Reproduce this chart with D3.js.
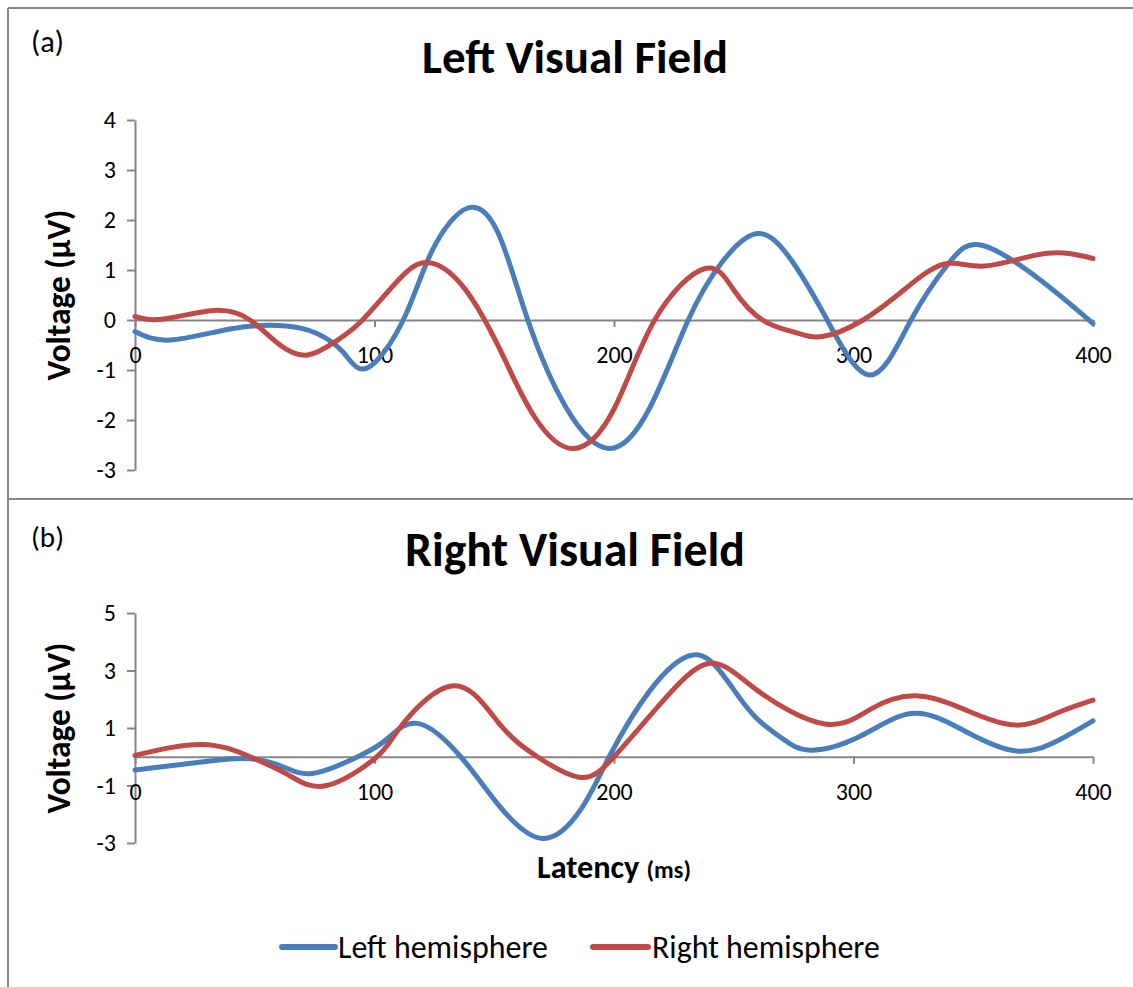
<!DOCTYPE html>
<html>
<head>
<meta charset="utf-8">
<script src="https://cdn.jsdelivr.net/npm/d3@7"></script>
<style>
  html, body { margin: 0; padding: 0; background: #fff; }
  svg { display: block; }
  text { font-family: Carlito, Lato, "Noto Sans", sans-serif; fill: #000; }
</style>
</head>
<body>
<svg id="chart" width="1133" height="987"></svg>
<script>
// Latency (ms) / voltage (µV) pairs for each hemisphere, per visual field
const leftFieldLeftHemi = [
  [0,-0.23],[15,-0.40],[41,-0.17],[63,-0.12],[76,-0.27],[87,-0.65],[97,-0.96],
  [112,0],[124,1.38],[139,2.24],[152,1.7],[164,0],[180,-1.75],[198,-2.57],
  [215,-1.75],[231,0],[245,1.15],[260,1.73],[274,1.2],[289,0],[307,-1.1],
  [324,0],[340,1.15],[354,1.49],[378,0.8],[400,-0.07]
];
const leftFieldRightHemi = [
  [0,0.07],[12,0.02],[33,0.19],[48,0],[60,-0.48],[72,-0.7],[84,-0.42],[95,0],
  [110,0.8],[122,1.15],[135,0.78],[146,0],[155,-0.85],[167,-1.95],[183,-2.57],
  [200,-1.78],[217,0],[238,1.03],[250,0.6],[262,0],[275,-0.24],[287,-0.33],
  [304,0],[321,0.6],[338,1.12],[355,1.08],[380,1.33],[400,1.23]
];
const rightFieldLeftHemi = [
  [0,-0.46],[27,-0.19],[45,-0.06],[60,-0.29],[74,-0.58],[93,0],[105,0.6],
  [118,1.16],[136,0],[152,-1.7],[170,-2.84],[186,-1.85],[198,0],[215,2.3],
  [233,3.54],[245,2.9],[252,2.1],[260,1.3],[270,0.65],[282,0.23],[303,0.72],
  [325,1.51],[347,0.87],[368,0.2],[385,0.55],[400,1.25]
];
const rightFieldRightHemi = [
  [0,0.05],[28,0.43],[48,0],[64,-0.63],[80,-1.0],[101,0],[111,1.05],[133,2.47],
  [152,1.16],[168,0],[186,-0.72],[200,0],[220,1.9],[240,3.25],[260,2.3],
  [288,1.14],[307,1.65],[326,2.12],[347,1.62],[368,1.1],[385,1.52],[400,1.97]
];

const xTicks = [0, 100, 200, 300, 400];
const yTicksA = [-3, -2, -1, 0, 1, 2, 3, 4];
const yTicksB = [-3, -1, 1, 3, 5];

const seriesNames = ["Left hemisphere", "Right hemisphere"];
const seriesColors = ["#4a7ebb", "#be4b48"];

const svg = d3.select("#chart");
const grey = "#868686";
const tickFmt = d => (d < 0 ? "-" + Math.abs(d) : String(d));

// stretch or shrink a text's font size so it spans the given width
function fitWidth(sel, width) {
  const w = sel.node().getComputedTextLength();
  const fs = parseFloat(sel.attr("font-size"));
  sel.attr("font-size", fs * width / w);
  return sel;
}

// frame: top edge, left edge, divider between the two panels
svg.append("line").attr("x1", 8).attr("x2", 1133).attr("y1", 8).attr("y2", 8)
  .attr("stroke", grey).attr("stroke-width", 2);
svg.append("line").attr("x1", 8).attr("x2", 8).attr("y1", 8).attr("y2", 987)
  .attr("stroke", grey).attr("stroke-width", 2);
svg.append("line").attr("x1", 8).attr("x2", 1133).attr("y1", 499).attr("y2", 499)
  .attr("stroke", grey).attr("stroke-width", 2);

const x = d3.scaleLinear().domain([0, 400]).range([135, 1093]);

function panel(opts) {
  const { y, yTicks, series, title, tag, titleY, titleW, tagY } = opts;
  const g = svg.append("g");

  const tg = g.append("text").attr("x", 31).attr("y", tagY).attr("font-size", 26).text(tag);
  fitWidth(tg, 33);

  const t = g.append("text").attr("x", 575).attr("y", titleY)
    .attr("text-anchor", "middle").attr("font-weight", "bold")
    .attr("font-size", 40).text(title);
  fitWidth(t, titleW);

  const [r0, r1] = y.range();
  const yl = g.append("text")
    .attr("transform", `translate(70,${(r0 + r1) / 2}) rotate(-90)`)
    .attr("text-anchor", "middle").attr("font-weight", "bold")
    .attr("font-size", 26).text("Voltage (µV)");
  fitWidth(yl, 171);

  // vertical axis
  const ya = g.append("g").attr("transform", `translate(${x(0)},0)`)
    .call(d3.axisLeft(y).tickValues(yTicks).tickFormat(tickFmt)
      .tickSize(8).tickSizeOuter(0).tickPadding(11));
  ya.attr("font-family", null);
  ya.selectAll("path, line").attr("stroke", grey).attr("stroke-width", 2);
  ya.selectAll("text").attr("fill", "#000").style("font-size", "24px");

  // horizontal axis sits on the zero line
  const xa = g.append("g").attr("transform", `translate(0,${y(0)})`)
    .call(d3.axisBottom(x).tickValues(xTicks).tickFormat(tickFmt)
      .tickSize(7).tickSizeOuter(0));
  xa.attr("font-family", null);
  xa.selectAll("path, line").attr("stroke", grey).attr("stroke-width", 2);
  xa.selectAll("text").attr("fill", "#000").style("font-size", "24px")
    .attr("y", 35).attr("dy", "0.35em");

  const line = d3.line().x(d => x(d[0])).y(d => y(d[1])).curve(d3.curveNatural);
  series.forEach((s, i) => {
    g.append("path").datum(s).attr("d", line)
      .attr("fill", "none").attr("stroke", seriesColors[i])
      .attr("stroke-width", 5).attr("stroke-linejoin", "round").attr("stroke-linecap", "round");
  });
}

panel({
  y: d3.scaleLinear().domain([-3, 4]).range([470, 120]),
  yTicks: yTicksA,
  series: [leftFieldLeftHemi, leftFieldRightHemi],
  title: "Left Visual Field", tag: "(a)",
  titleY: 73, titleW: 306, tagY: 52
});

panel({
  y: d3.scaleLinear().domain([-3, 5]).range([843, 613]),
  yTicks: yTicksB,
  series: [rightFieldLeftHemi, rightFieldRightHemi],
  title: "Right Visual Field", tag: "(b)",
  titleY: 566, titleW: 340, tagY: 547
});

// x axis title
const xt = svg.append("text").attr("x", 614).attr("y", 878)
  .attr("text-anchor", "middle").attr("font-weight", "bold").attr("font-size", 26);
xt.append("tspan").text("Latency ");
xt.append("tspan").attr("font-size", "0.75em").text("(ms)");
fitWidth(xt, 154);

// legend
const legendItems = [
  { x1: 282, x2: 335, tx: 338, w: 210 },
  { x1: 593, x2: 648, tx: 652, w: 228 }
];
legendItems.forEach((it, i) => {
  svg.append("line").attr("x1", it.x1).attr("x2", it.x2).attr("y1", 947).attr("y2", 947)
    .attr("stroke", seriesColors[i]).attr("stroke-width", 6).attr("stroke-linecap", "round");
  const lt = svg.append("text").attr("x", it.tx).attr("y", 958)
    .attr("font-size", 28).text(seriesNames[i]);
  fitWidth(lt, it.w);
});
</script>
</body>
</html>
